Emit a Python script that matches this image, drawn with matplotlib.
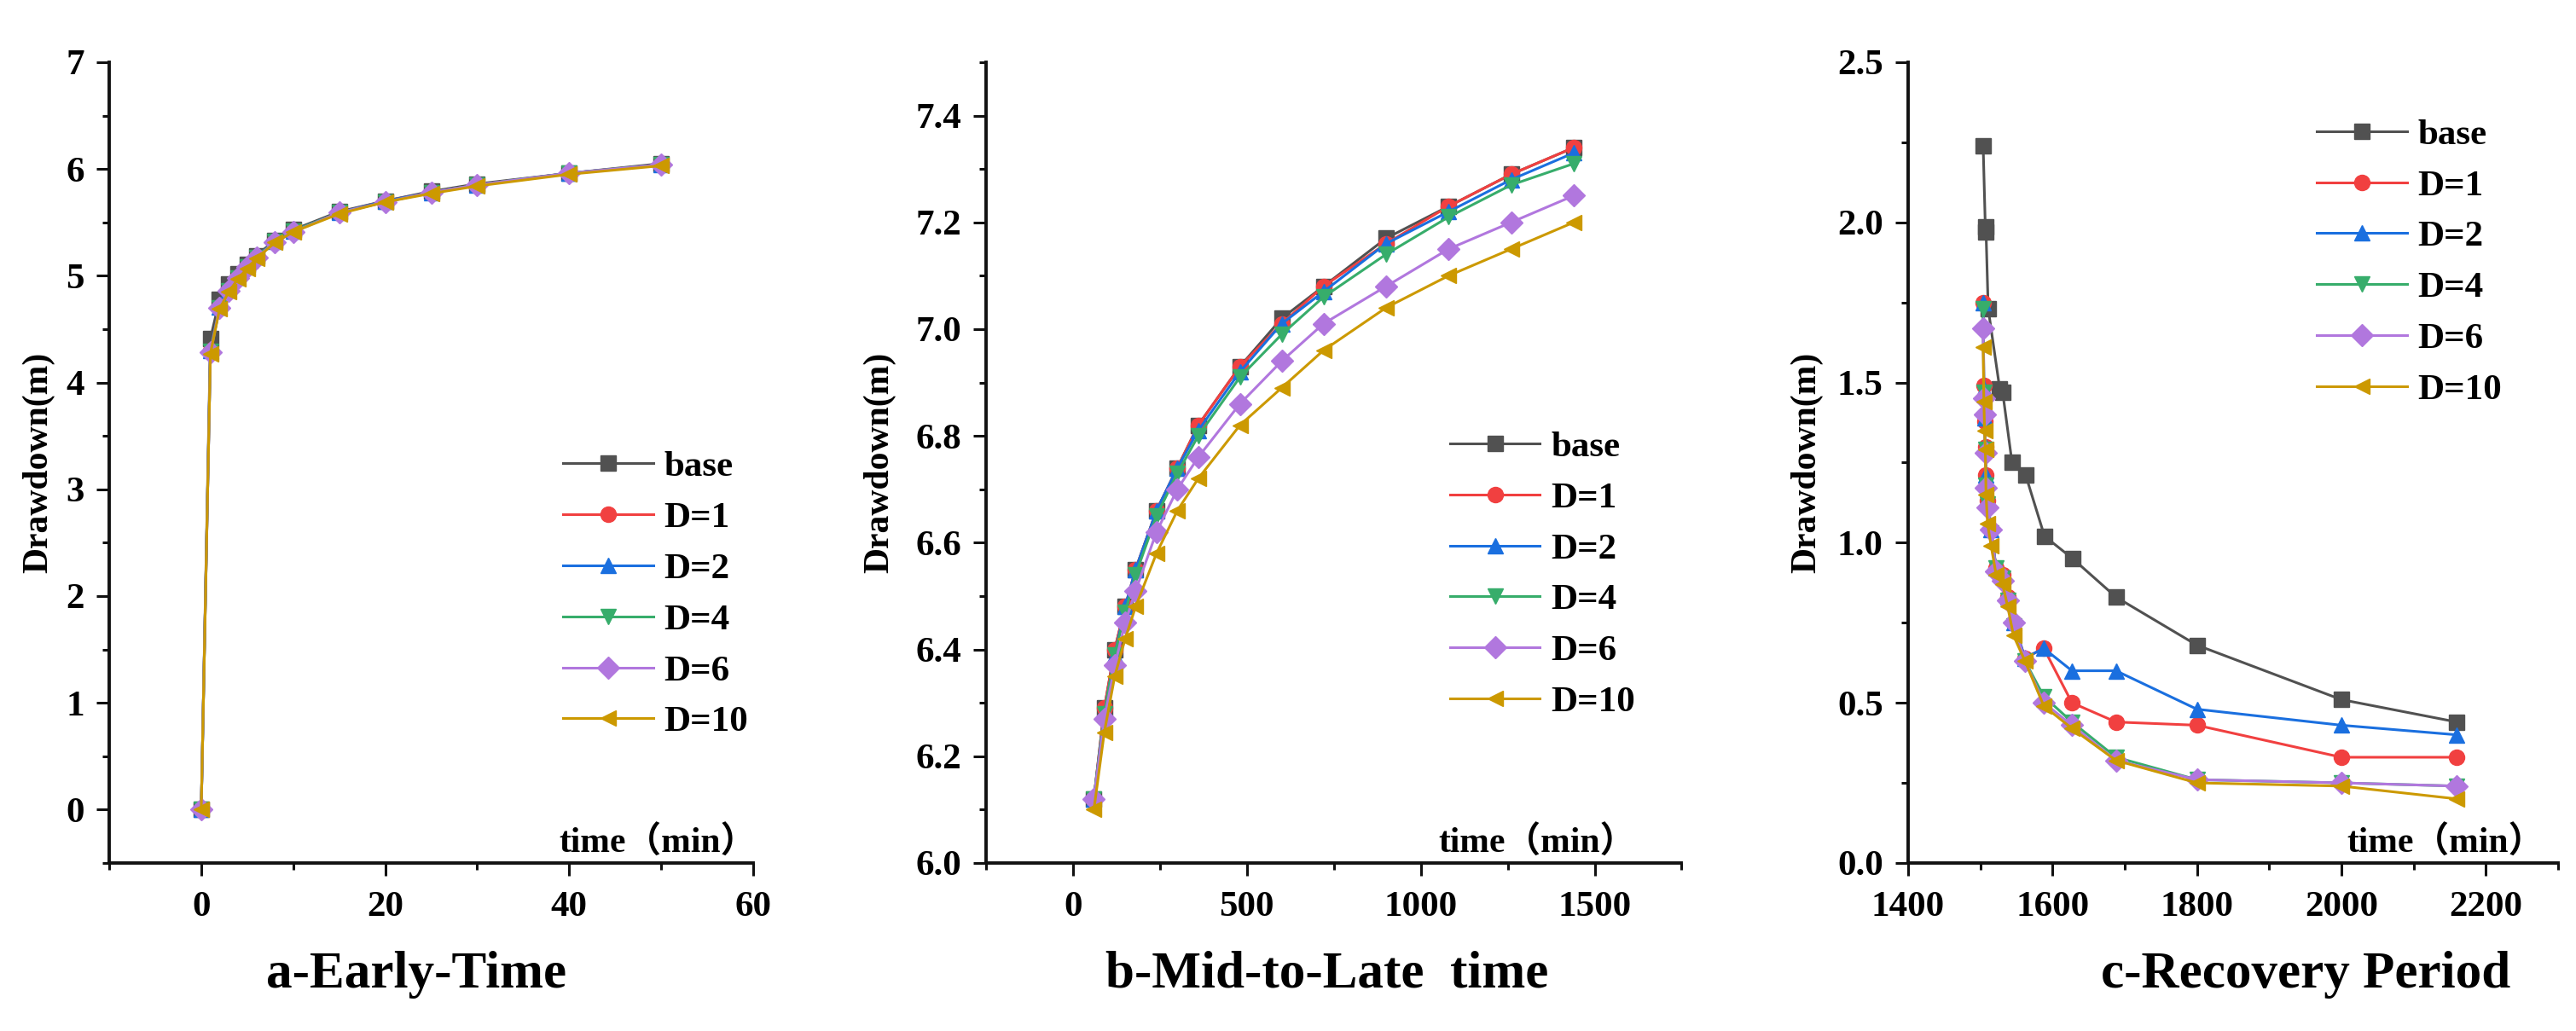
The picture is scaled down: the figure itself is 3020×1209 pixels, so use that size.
import numpy as np
import matplotlib
matplotlib.use("Agg")
import matplotlib.pyplot as plt
from matplotlib.ticker import MultipleLocator, FormatStrFormatter

plt.rcParams["font.family"] = ["Liberation Serif", "Noto Sans CJK SC"]
plt.rcParams["font.weight"] = "bold"

# series names, colours and markers (Origin style)
labels = ["base", "D=1", "D=2", "D=4", "D=6", "D=10"]
colors = ["#515151", "#F14040", "#1A6FDF", "#37AD6B", "#B177DE", "#CC9900"]
markers = ["s", "o", "^", "v", "D", "<"]

# a - early time
t_early = [0, 1, 2, 3, 4, 5, 6, 8, 10, 15, 20, 25, 30, 40, 50]
early_base = [0, 4.41, 4.78, 4.92, 5.02, 5.11, 5.19, 5.33, 5.43, 5.60, 5.70, 5.79, 5.86, 5.96, 6.05]
early_d1 = [0, 4.30, 4.71, 4.87, 4.99, 5.09, 5.18, 5.32, 5.42, 5.59, 5.70, 5.78, 5.85, 5.96, 6.04]
early_d2 = [0, 4.30, 4.71, 4.87, 4.99, 5.09, 5.18, 5.32, 5.42, 5.59, 5.70, 5.78, 5.85, 5.96, 6.04]
early_d4 = [0, 4.29, 4.70, 4.86, 4.98, 5.08, 5.17, 5.32, 5.42, 5.59, 5.69, 5.78, 5.85, 5.96, 6.04]
early_d6 = [0, 4.28, 4.70, 4.86, 4.98, 5.08, 5.17, 5.31, 5.41, 5.59, 5.69, 5.78, 5.85, 5.96, 6.04]
early_d10 = [0, 4.27, 4.69, 4.85, 4.97, 5.07, 5.16, 5.31, 5.41, 5.58, 5.69, 5.77, 5.84, 5.95, 6.03]

# b - mid to late time
t_mid = [60, 90, 120, 150, 180, 240, 300, 360, 480, 600, 720, 900, 1080, 1260, 1440]
mid_base = [6.12, 6.29, 6.40, 6.48, 6.55, 6.66, 6.74, 6.82, 6.93, 7.02, 7.08, 7.17, 7.23, 7.29, 7.34]
mid_d1 = [6.12, 6.29, 6.40, 6.48, 6.55, 6.66, 6.74, 6.82, 6.93, 7.01, 7.08, 7.16, 7.23, 7.29, 7.34]
mid_d2 = [6.12, 6.28, 6.39, 6.48, 6.55, 6.66, 6.74, 6.81, 6.92, 7.01, 7.07, 7.16, 7.22, 7.28, 7.33]
mid_d4 = [6.12, 6.28, 6.39, 6.47, 6.54, 6.65, 6.73, 6.80, 6.91, 6.99, 7.06, 7.14, 7.21, 7.27, 7.31]
mid_d6 = [6.12, 6.27, 6.37, 6.45, 6.51, 6.62, 6.70, 6.76, 6.86, 6.94, 7.01, 7.08, 7.15, 7.20, 7.25]
mid_d10 = [6.10, 6.245, 6.35, 6.42, 6.48, 6.58, 6.66, 6.72, 6.82, 6.89, 6.96, 7.04, 7.10, 7.15, 7.20]

# c - recovery period
t_rec_base = [1504, 1507, 1508, 1511, 1527, 1531, 1544, 1563, 1589, 1628, 1688, 1800, 2000, 2160]
rec_base = [2.24, 1.985, 1.97, 1.73, 1.48, 1.47, 1.25, 1.21, 1.02, 0.95, 0.83, 0.68, 0.51, 0.44]
t_rec = [1504, 1505, 1506, 1507, 1508, 1510, 1515, 1522, 1531, 1538, 1546, 1562, 1588, 1627, 1688, 1800, 2000, 2160]
rec_d1 = [1.75, 1.49, 1.38, 1.30, 1.21, 1.13, 1.04, 0.92, 0.90, 0.83, 0.75, 0.64, 0.67, 0.50, 0.44, 0.43, 0.33, 0.33]
rec_d2 = [1.75, 1.48, 1.39, 1.30, 1.21, 1.14, 1.04, 0.92, 0.90, 0.83, 0.75, 0.64, 0.67, 0.60, 0.60, 0.48, 0.43, 0.40]
rec_d4 = [1.73, 1.47, 1.38, 1.29, 1.18, 1.12, 1.03, 0.92, 0.89, 0.82, 0.74, 0.63, 0.52, 0.44, 0.33, 0.26, 0.25, 0.24]
rec_d6 = [1.67, 1.45, 1.40, 1.28, 1.17, 1.11, 1.04, 0.91, 0.88, 0.82, 0.75, 0.63, 0.50, 0.43, 0.32, 0.26, 0.25, 0.24]
rec_d10 = [1.61, 1.44, 1.35, 1.29, 1.15, 1.06, 0.99, 0.90, 0.87, 0.80, 0.71, 0.63, 0.49, 0.42, 0.32, 0.25, 0.24, 0.20]

panels = [
    {
        "x": [t_early] * 6,
        "y": [early_base, early_d1, early_d2, early_d4, early_d6, early_d10],
        "rect": [0.0424, 0.163, 0.25, 0.7767],
        "xlim": (-10, 60), "ylim": (-0.5, 7),
        "xmaj": 20, "xmin": 10, "ymaj": 1, "ymin": 0.5, "yfmt": "%d",
        "title": "a-Early-Time", "title_x": 0.1616,
        "leg": (0.705, 0.515), "ylab_x": -0.085, "time_x": 1.004,
    },
    {
        "x": [t_mid] * 6,
        "y": [mid_base, mid_d1, mid_d2, mid_d4, mid_d6, mid_d10],
        "rect": [0.3828, 0.163, 0.27, 0.7767],
        "xlim": (-250, 1750), "ylim": (6.0, 7.5),
        "xmaj": 500, "xmin": 250, "ymaj": 0.2, "ymin": 0.1, "yfmt": "%.1f",
        "title": "b-Mid-to-Late  time", "title_x": 0.515,
        "leg": (0.667, 0.54), "ylab_x": -0.130, "time_x": 0.934,
    },
    {
        "x": [t_rec_base] + [t_rec] * 5,
        "y": [rec_base, rec_d1, rec_d2, rec_d4, rec_d6, rec_d10],
        "rect": [0.7407, 0.163, 0.2523, 0.7767],
        "xlim": (1400, 2300), "ylim": (0, 2.5),
        "xmaj": 200, "xmin": 100, "ymaj": 0.5, "ymin": 0.25, "yfmt": "%.1f",
        "title": "c-Recovery Period", "title_x": 0.895,
        "leg": (0.629, 0.93), "ylab_x": -0.131, "time_x": 0.978,
    },
]

fig = plt.figure(figsize=(30.2, 12.09), dpi=100)

for p in panels:
    ax = fig.add_axes(p["rect"])
    for xs, ys, lab, c, m in zip(p["x"], p["y"], labels, colors, markers):
        ax.plot(xs, ys, color=c, marker=m, markersize=13, linewidth=2.2,
                label=lab, clip_on=False)

    ax.set_xlim(*p["xlim"])
    ax.set_ylim(*p["ylim"])
    ax.xaxis.set_major_locator(MultipleLocator(p["xmaj"]))
    ax.xaxis.set_minor_locator(MultipleLocator(p["xmin"]))
    ax.yaxis.set_major_locator(MultipleLocator(p["ymaj"]))
    ax.yaxis.set_minor_locator(MultipleLocator(p["ymin"]))
    ax.yaxis.set_major_formatter(FormatStrFormatter(p["yfmt"]))

    for s in ["top", "right"]:
        ax.spines[s].set_visible(False)
    for s in ["left", "bottom"]:
        ax.spines[s].set_linewidth(2.8)
        ax.spines[s].set_color("#111111")

    ax.tick_params(which="major", direction="out", length=11, width=2.2,
                   labelsize=31, color="#111111")
    ax.tick_params(which="minor", direction="out", length=6, width=2.2,
                   color="#111111")
    ax.tick_params(axis="x", which="major", pad=13)
    ax.tick_params(axis="y", which="major", pad=10)

    ax.set_ylabel("Drawdown(m)", fontsize=30, fontweight="bold")
    ax.yaxis.set_label_coords(p["ylab_x"], 0.5)

    ax.text(p["time_x"], 0.013, "time（min）", transform=ax.transAxes,
            ha="right", va="baseline", fontsize=30, fontweight="bold")

    ax.legend(loc="upper left", bbox_to_anchor=p["leg"], frameon=False,
              fontsize=31, handlelength=2.45, handletextpad=0.3,
              labelspacing=0.48, borderpad=0, borderaxespad=0)

    fig.text(p["title_x"], 0.055, p["title"], ha="center", va="center",
             fontsize=44, fontweight="bold")

fig.savefig("out.png", dpi=100)
